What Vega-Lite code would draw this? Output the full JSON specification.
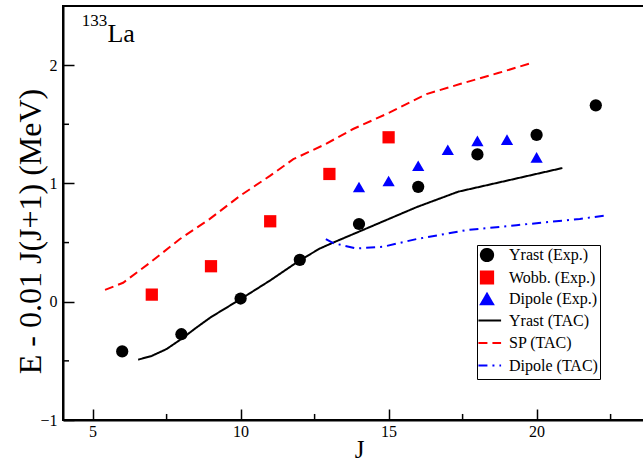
{
  "$schema": "https://vega.github.io/schema/vega-lite/v6.json",
  "width": 592,
  "height": 414,
  "autosize": {"type": "none"},
  "padding": {"left": 63, "top": 6, "right": 0, "bottom": 43},
  "background": "white",
  "config": {
    "view": {"stroke": "black", "strokeWidth": 2},
    "font": "Liberation Serif"
  },
  "datasets": {
    "pts": [
      {"s": "Yrast (Exp.)", "J": 6, "E": -0.42},
      {"s": "Yrast (Exp.)", "J": 8, "E": -0.275},
      {"s": "Yrast (Exp.)", "J": 10, "E": 0.027},
      {"s": "Yrast (Exp.)", "J": 12, "E": 0.354},
      {"s": "Yrast (Exp.)", "J": 14, "E": 0.657},
      {"s": "Yrast (Exp.)", "J": 16, "E": 0.971},
      {"s": "Yrast (Exp.)", "J": 18, "E": 1.245},
      {"s": "Yrast (Exp.)", "J": 20, "E": 1.41},
      {"s": "Yrast (Exp.)", "J": 22, "E": 1.66},
      {"s": "Wobb. (Exp.)", "J": 7, "E": 0.06},
      {"s": "Wobb. (Exp.)", "J": 9, "E": 0.30},
      {"s": "Wobb. (Exp.)", "J": 11, "E": 0.68},
      {"s": "Wobb. (Exp.)", "J": 13, "E": 1.08},
      {"s": "Wobb. (Exp.)", "J": 15, "E": 1.39},
      {"s": "Dipole (Exp.)", "J": 14, "E": 0.97},
      {"s": "Dipole (Exp.)", "J": 15, "E": 1.02},
      {"s": "Dipole (Exp.)", "J": 16, "E": 1.15},
      {"s": "Dipole (Exp.)", "J": 17, "E": 1.285},
      {"s": "Dipole (Exp.)", "J": 18, "E": 1.36},
      {"s": "Dipole (Exp.)", "J": 19, "E": 1.37},
      {"s": "Dipole (Exp.)", "J": 20, "E": 1.22}
    ],
    "lines": [
      {"s": "Yrast (TAC)", "J": 6.54, "E": -0.49},
      {"s": "Yrast (TAC)", "J": 7.0, "E": -0.458},
      {"s": "Yrast (TAC)", "J": 7.5, "E": -0.40},
      {"s": "Yrast (TAC)", "J": 8.0, "E": -0.315},
      {"s": "Yrast (TAC)", "J": 8.5, "E": -0.22},
      {"s": "Yrast (TAC)", "J": 9.0, "E": -0.13},
      {"s": "Yrast (TAC)", "J": 10.0, "E": 0.022},
      {"s": "Yrast (TAC)", "J": 11.0, "E": 0.18},
      {"s": "Yrast (TAC)", "J": 12.0, "E": 0.35},
      {"s": "Yrast (TAC)", "J": 12.68, "E": 0.45},
      {"s": "Yrast (TAC)", "J": 13.13, "E": 0.50},
      {"s": "Yrast (TAC)", "J": 14.26, "E": 0.62},
      {"s": "Yrast (TAC)", "J": 15.95, "E": 0.80},
      {"s": "Yrast (TAC)", "J": 17.35, "E": 0.93},
      {"s": "Yrast (TAC)", "J": 18.76, "E": 1.01},
      {"s": "Yrast (TAC)", "J": 20.87, "E": 1.13},
      {"s": "SP (TAC)", "J": 5.42, "E": 0.10},
      {"s": "SP (TAC)", "J": 6.03, "E": 0.16},
      {"s": "SP (TAC)", "J": 6.94, "E": 0.33},
      {"s": "SP (TAC)", "J": 7.95, "E": 0.53},
      {"s": "SP (TAC)", "J": 8.96, "E": 0.70},
      {"s": "SP (TAC)", "J": 9.98, "E": 0.895},
      {"s": "SP (TAC)", "J": 10.99, "E": 1.064},
      {"s": "SP (TAC)", "J": 11.78, "E": 1.205},
      {"s": "SP (TAC)", "J": 12.85, "E": 1.33},
      {"s": "SP (TAC)", "J": 13.8, "E": 1.46},
      {"s": "SP (TAC)", "J": 15.04, "E": 1.60},
      {"s": "SP (TAC)", "J": 16.28, "E": 1.755},
      {"s": "SP (TAC)", "J": 17.41, "E": 1.84},
      {"s": "SP (TAC)", "J": 18.7, "E": 1.933},
      {"s": "SP (TAC)", "J": 19.85, "E": 2.02},
      {"s": "Dipole (TAC)", "J": 12.88, "E": 0.53},
      {"s": "Dipole (TAC)", "J": 13.13, "E": 0.495},
      {"s": "Dipole (TAC)", "J": 13.92, "E": 0.45},
      {"s": "Dipole (TAC)", "J": 14.82, "E": 0.465},
      {"s": "Dipole (TAC)", "J": 15.95, "E": 0.53},
      {"s": "Dipole (TAC)", "J": 17.63, "E": 0.605},
      {"s": "Dipole (TAC)", "J": 19.32, "E": 0.647},
      {"s": "Dipole (TAC)", "J": 21.46, "E": 0.70},
      {"s": "Dipole (TAC)", "J": 22.38, "E": 0.73}
    ],
    "minorx": [
      {"J": 7.5, "E0": -1, "E1": -0.949},
      {"J": 12.5, "E0": -1, "E1": -0.949},
      {"J": 17.5, "E0": -1, "E1": -0.949},
      {"J": 22.5, "E0": -1, "E1": -0.949}
    ],
    "minory": [
      {"E": -0.5, "J0": 4, "J1": 4.203},
      {"E": 0.5, "J0": 4, "J1": 4.203},
      {"E": 1.5, "J0": 4, "J1": 4.203}
    ]
  },
  "layer": [
    {
      "data": {"name": "lines"},
      "mark": {"type": "line", "strokeWidth": 2, "clip": true},
      "encoding": {
        "x": {
          "field": "J", "type": "quantitative",
          "scale": {"domain": [4, 24], "nice": false, "zero": false},
          "axis": {
            "title": "J",
            "values": [5, 10, 15, 20],
            "format": "d",
            "grid": false,
            "domainColor": "black", "domainWidth": 2,
            "tickColor": "black", "tickWidth": 1.5,
            "tickSize": -11,
            "labelFont": "Liberation Serif", "labelFontSize": 16, "labelColor": "black",
            "labelPadding": 14,
            "titleFont": "Liberation Serif", "titleFontSize": 25, "titleFontWeight": "normal", "titleColor": "black",
            "titleBaseline": "alphabetic", "titleY": 37
          }
        },
        "y": {
          "field": "E", "type": "quantitative",
          "scale": {"domain": [-1, 2.5], "nice": false, "zero": false},
          "axis": {
            "title": "E - 0.01 J(J+1) (MeV)",
            "values": [-1, 0, 1, 2],
            "format": "d",
            "grid": false,
            "domainColor": "black", "domainWidth": 2,
            "tickColor": "black", "tickWidth": 1.5,
            "tickSize": -11,
            "labelFont": "Liberation Serif", "labelFontSize": 16, "labelColor": "black",
            "labelPadding": 17,
            "titleFont": "Liberation Serif", "titleFontSize": 32, "titleFontWeight": "normal", "titleColor": "black",
            "titleAngle": -90, "titleAlign": "center", "titleBaseline": "middle",
            "titleX": -33, "titleY": 225
          }
        },
        "color": {
          "field": "s", "type": "nominal",
          "scale": {
            "domain": ["Yrast (Exp.)", "Wobb. (Exp.)", "Dipole (Exp.)", "Yrast (TAC)", "SP (TAC)", "Dipole (TAC)"],
            "range": ["#000000", "#ff0000", "#0000ff", "#000000", "#ff0000", "#0000ff"]
          },
          "legend": {
            "title": null,
            "orient": "none", "legendX": 414, "legendY": 239,
            "strokeColor": "black",
            "padding": 2,
            "labelFont": "Liberation Serif", "labelFontSize": 16, "labelColor": "black",
            "labelOffset": 14,
            "symbolSize": 150,
            "symbolStrokeWidth": 2,
            "rowPadding": 0.5
          }
        },
        "strokeDash": {
          "field": "s", "type": "nominal",
          "scale": {
            "domain": ["Yrast (Exp.)", "Wobb. (Exp.)", "Dipole (Exp.)", "Yrast (TAC)", "SP (TAC)", "Dipole (TAC)"],
            "range": [[1, 0], [1, 0], [1, 0], [1, 0], [9, 5], [9, 5, 2, 5]]
          }
        }
      }
    },
    {
      "data": {"name": "pts"},
      "mark": {"type": "point", "filled": true, "opacity": 1, "size": 150},
      "encoding": {
        "x": {"field": "J", "type": "quantitative"},
        "y": {"field": "E", "type": "quantitative"},
        "color": {"field": "s", "type": "nominal"},
        "shape": {
          "field": "s", "type": "nominal",
          "scale": {
            "domain": ["Yrast (Exp.)", "Wobb. (Exp.)", "Dipole (Exp.)", "Yrast (TAC)", "SP (TAC)", "Dipole (TAC)"],
            "range": ["circle", "square", "triangle-up", "M-2.3,-1.1M2.3,1.1M-1.4,0H2.3", "M-2.3,-1.1M2.3,1.1M-1.4,0H2.3", "M-2.3,-1.1M2.3,1.1M-1.4,0H2.3"]
          }
        }
      }
    },
    {
      "data": {"name": "minorx"},
      "mark": {"type": "rule", "color": "black", "strokeWidth": 1.5},
      "encoding": {
        "x": {"field": "J", "type": "quantitative"},
        "y": {"field": "E0", "type": "quantitative"},
        "y2": {"field": "E1"}
      }
    },
    {
      "data": {"name": "minory"},
      "mark": {"type": "rule", "color": "black", "strokeWidth": 1.5},
      "encoding": {
        "y": {"field": "E", "type": "quantitative"},
        "x": {"field": "J0", "type": "quantitative"},
        "x2": {"field": "J1"}
      }
    },
    {
      "data": {"values": [{"t": "133"}]},
      "mark": {"type": "text", "font": "Liberation Serif", "fontSize": 17, "align": "left", "baseline": "alphabetic", "color": "black"},
      "encoding": {
        "x": {"datum": 4.63, "type": "quantitative"},
        "y": {"datum": 2.33, "type": "quantitative"},
        "text": {"field": "t"}
      }
    },
    {
      "data": {"values": [{"t": "La"}]},
      "mark": {"type": "text", "font": "Liberation Serif", "fontSize": 26, "align": "left", "baseline": "alphabetic", "color": "black"},
      "encoding": {
        "x": {"datum": 5.5, "type": "quantitative"},
        "y": {"datum": 2.195, "type": "quantitative"},
        "text": {"field": "t"}
      }
    }
  ]
}
